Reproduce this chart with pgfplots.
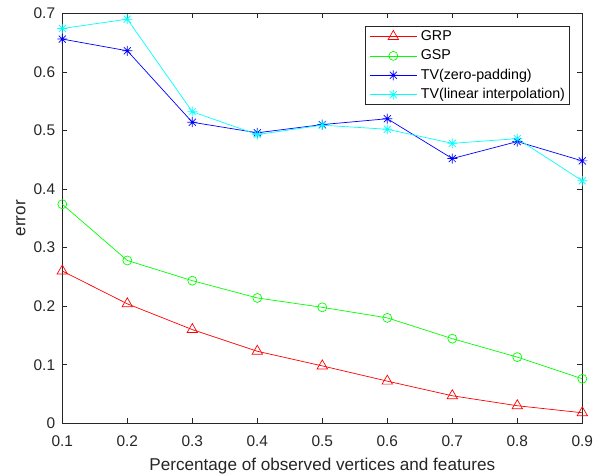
\documentclass[border=0pt]{standalone}
\usepackage{fontspec}
\setmainfont{Liberation Sans}
\usepackage{pgfplots}
\pgfplotsset{compat=1.18}
\definecolor{axgray}{rgb}{0.15,0.15,0.15}
\definecolor{mcyan}{rgb}{0,1,1}
\definecolor{mgreen}{rgb}{0,1,0}
\definecolor{mred}{rgb}{1,0,0}
\definecolor{mblue}{rgb}{0,0,1}
\pgfdeclareplotmark{ast8}{%
 \pgfpathmoveto{\pgfpoint{-\pgfplotmarksize}{0pt}}\pgfpathlineto{\pgfpoint{\pgfplotmarksize}{0pt}}%
 \pgfpathmoveto{\pgfpoint{0pt}{-\pgfplotmarksize}}\pgfpathlineto{\pgfpoint{0pt}{\pgfplotmarksize}}%
 \pgfpathmoveto{\pgfpoint{-0.707\pgfplotmarksize}{-0.707\pgfplotmarksize}}\pgfpathlineto{\pgfpoint{0.707\pgfplotmarksize}{0.707\pgfplotmarksize}}%
 \pgfpathmoveto{\pgfpoint{-0.707\pgfplotmarksize}{0.707\pgfplotmarksize}}\pgfpathlineto{\pgfpoint{0.707\pgfplotmarksize}{-0.707\pgfplotmarksize}}%
 \pgfusepathqstroke}
\begin{document}
\begin{tikzpicture}
\begin{axis}[
  scale only axis,
  width=520bp, height=410bp,
  xmin=0.1, xmax=0.9, ymin=0, ymax=0.7,
  xtick={0.1,0.2,0.3,0.4,0.5,0.6,0.7,0.8,0.9},
  ytick={0,0.1,0.2,0.3,0.4,0.5,0.6,0.7},
  /pgf/number format/assume math mode=true,
  /pgf/number format/fixed,
  /pgf/number format/precision=1,
  tick align=inside,
  major tick length=5bp,
  axis line style={axgray, line width=0.6bp},
  every tick/.style={axgray, line width=0.6bp},
  tick label style={font=\fontsize{15.5}{18}\selectfont, text=axgray},
  xticklabel style={anchor=base, inner sep=0pt, yshift=-23.4bp},
  yticklabel style={anchor=east, inner sep=0pt, xshift=-7bp},
  label style={font=\fontsize{17.2}{20}\selectfont, text=axgray},
  xlabel={Percentage of observed vertices and features},
  ylabel={error},
  xlabel style={at={([yshift=-47.4bp]axis description cs:0.5,0)}, anchor=base, inner sep=0pt},
  ylabel style={at={([xshift=-37bp]axis description cs:0,0.5)}, anchor=base, inner sep=0pt},
  legend style={at={(rel axis cs:0.975,0.968)}, anchor=north east,
    draw=axgray, line width=0.6bp, fill=white,
    font=\fontsize{14.3}{16}\selectfont,
    inner xsep=4bp, inner ysep=3bp,
    nodes={inner sep=0pt, text height=10.5bp, text depth=3bp},
    row sep=5.9bp, column sep=3.7bp},
  legend cell align=left,
  legend image code/.code={\draw[mark repeat=2,mark phase=2] plot coordinates {(0bp,0bp)(23.5bp,0bp)(47bp,0bp)};},
]
\addplot[mred, line width=0.7bp, mark=triangle, mark size=6bp, mark options={solid}] coordinates {
(0.1,0.260)(0.2,0.204)(0.3,0.160)(0.4,0.123)(0.5,0.098)(0.6,0.072)(0.7,0.047)(0.8,0.030)(0.9,0.018)};
\addlegendentry{GRP}
\addplot[mgreen, line width=0.7bp, mark=o, mark size=4.5bp] coordinates {
(0.1,0.374)(0.2,0.278)(0.3,0.2435)(0.4,0.214)(0.5,0.198)(0.6,0.180)(0.7,0.1445)(0.8,0.113)(0.9,0.076)};
\addlegendentry{GSP}
\addplot[mblue, line width=0.7bp, mark=ast8, mark size=5bp] coordinates {
(0.1,0.656)(0.2,0.636)(0.3,0.514)(0.4,0.496)(0.5,0.510)(0.6,0.520)(0.7,0.452)(0.8,0.481)(0.9,0.448)};
\addlegendentry{TV(zero-padding)}
\addplot[mcyan, line width=0.7bp, mark=ast8, mark size=5bp] coordinates {
(0.1,0.674)(0.2,0.690)(0.3,0.532)(0.4,0.493)(0.5,0.509)(0.6,0.502)(0.7,0.478)(0.8,0.486)(0.9,0.414)};
\addlegendentry{TV(linear interpolation)}
\end{axis}
\pgfresetboundingbox
\path[use as bounding box] ([shift={(-62.3bp,-50.7bp)}]current axis.south west) rectangle ([shift={(13.7bp,13.3bp)}]current axis.north east);
\end{tikzpicture}
\end{document}
